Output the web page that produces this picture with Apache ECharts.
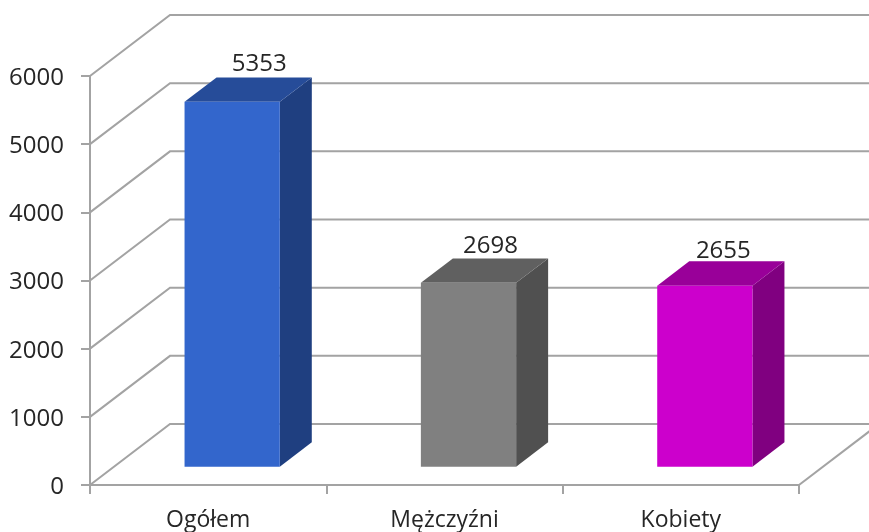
<!DOCTYPE html>
<html lang="pl">
<head>
  <meta charset="UTF-8">
  <title>Ogółem, mężczyźni, kobiety</title>
  <style type="text/css">
    html, body { margin: 0; padding: 0; background: #fff; }
    #chart { width: 869px; height: 532px; }
  </style>
</head>
<body>
  <div id="chart"></div>
  <script src="https://cdnjs.cloudflare.com/ajax/libs/echarts/6.0.0/echarts.min.js"></script>
  <script>
    const categories = ['Ogółem', 'Mężczyźni', 'Kobiety']
    const values = [5353, 2698, 2655]
    const yTicks = [0, 1000, 2000, 3000, 4000, 5000, 6000]

    const frontColors = ['#3366cc', '#808080', '#cc00cc']
    const topColors = ['#264c99', '#606060', '#990099']
    const sideColors = ['#1f3f80', '#505050', '#800080']

    // depth of the fake 3d box, in pixels
    const depthX = 80
    const depthY = 61
    const barFront = 0.3
    const barBack = 0.7
    const font = '"Open Sans", sans-serif'
    const gray = '#a3a3a3'
    // value labels do not sit quite the same on each bar
    const labelShiftX = [27, 22, 18.5]
    const labelShiftY = [13, 12.5, 10]

    function renderWall (params, api) {
      const rect = params.coordSys
      const y = api.coord([0, api.value(1)])[1]
      const lines = [{
        type: 'polyline',
        shape: { points: [[rect.x, y], [rect.x + depthX, y - depthY], [rect.x + rect.width + depthX, y - depthY]] },
        style: { fill: null, stroke: gray, lineWidth: 2 }
      }]
      if (api.value(1) === 0) {
        lines.push({
          type: 'line',
          shape: { x1: rect.x + rect.width, y1: y, x2: rect.x + rect.width + depthX, y2: y - depthY },
          style: { stroke: gray, lineWidth: 2 }
        })
      }
      return { type: 'group', children: lines }
    }

    function renderBar (params, api) {
      const i = api.value(0)
      const value = api.value(1)
      const width = api.size([1, 0])[0] * 0.403
      const top = api.coord([i, value])
      const base = api.coord([i, 0])
      const dx = depthX * barFront
      const dy = depthY * barFront
      const sx = depthX * (barBack - barFront)
      const sy = depthY * (barBack - barFront)
      const x0 = top[0] - width / 2 + dx
      const x1 = x0 + width
      const yTop = top[1] - dy
      const yBase = base[1] - dy
      return {
        type: 'group',
        children: [
          {
            type: 'polygon',
            shape: { points: [[x1, yTop], [x1 + sx, yTop - sy], [x1 + sx, yBase - sy], [x1, yBase]] },
            style: { fill: sideColors[i] }
          },
          {
            type: 'polygon',
            shape: { points: [[x0, yTop], [x0 + sx, yTop - sy], [x1 + sx, yTop - sy], [x1, yTop]] },
            style: { fill: topColors[i] }
          },
          {
            type: 'rect',
            shape: { x: x0, y: yTop, width: width, height: yBase - yTop },
            style: { fill: frontColors[i] }
          },
          {
            type: 'text',
            style: {
              text: String(value),
              x: x0 + width / 2 + labelShiftX[i],
              y: yTop - sy - labelShiftY[i],
              align: 'center',
              verticalAlign: 'middle',
              font: '24px ' + font,
              fill: '#262626'
            }
          }
        ]
      }
    }

    const myChart = echarts.init(document.getElementById('chart'), null, { renderer: 'canvas' })

    myChart.setOption({
      animation: false,
      grid: { left: 90, right: 70, top: 76, bottom: 47 },
      xAxis: {
        type: 'category',
        data: categories,
        axisLine: { lineStyle: { color: gray, width: 2 } },
        axisTick: { show: true, length: 9, lineStyle: { color: gray, width: 2 } },
        axisLabel: { color: '#262626', fontFamily: font, fontSize: 23, margin: 24 }
      },
      yAxis: {
        type: 'value',
        min: 0,
        max: 6000,
        interval: 1000,
        axisLine: { show: true, lineStyle: { color: gray, width: 2 } },
        axisTick: { show: true, length: 9, lineStyle: { color: gray, width: 2 } },
        axisLabel: {
          color: '#262626',
          fontFamily: font,
          fontSize: 24,
          margin: 26,
          verticalAlign: 'top',
          lineHeight: 4,
          formatter: v => String(v)
        },
        splitLine: { show: false }
      },
      series: [
        {
          type: 'custom',
          name: 'wall',
          z: 1,
          silent: true,
          renderItem: renderWall,
          encode: { x: 0, y: 1 },
          data: yTicks.map(v => [0, v])
        },
        {
          type: 'custom',
          name: 'bars',
          z: 3,
          renderItem: renderBar,
          encode: { x: 0, y: 1 },
          data: values.map((v, i) => [i, v])
        }
      ]
    })
  </script>
</body>
</html>
